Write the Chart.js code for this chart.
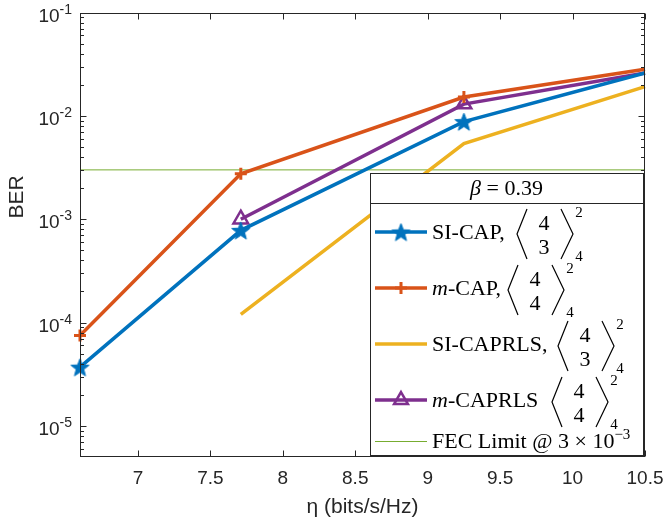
<!DOCTYPE html>
<html>
<head>
<meta charset="utf-8">
<script src="https://cdn.jsdelivr.net/npm/chart.js@4.4.1/dist/chart.umd.min.js"></script>
<style>
  html, body { margin: 0; padding: 0; background: #fff; }
  #wrap { position: relative; width: 665px; height: 520px; }
</style>
</head>
<body>
<div id="wrap"><canvas id="berChart" width="665" height="520"></canvas></div>
<script>
// ---------------- data ----------------
const etaValues = [6.6, 7.71, 9.25, 10.5];
const siCap = [3.7e-5, 7.8e-4, 8.8e-3, 0.026];
const mCap = [7.5e-5, 2.75e-3, 0.0152, 0.0283];
const siCapRls = [null, 1.2e-4, 5.4e-3, 0.0192];
const mCapRls = [null, 1.0e-3, 0.013, 0.026];
const fecLimit = 3e-3;
const xTicks = [7, 7.5, 8, 8.5, 9, 9.5, 10, 10.5];
const yDecades = [-5, -4, -3, -2, -1];
const xRange = [6.6, 10.5];
const yRange = [5e-6, 0.1];

const colors = { blue: '#0072BD', orange: '#D95319', yellow: '#EDB120', purple: '#7E2F8E', green: '#77AC30' };
const axisFont = '"Liberation Sans", Arial, sans-serif';
const serif = '"Liberation Serif", "Times New Roman", serif';
const legendSize = 22;

function toPoints(ys) {
  return etaValues.map((x, i) => ({ x: x, y: ys[i] })).filter(p => p.y !== null);
}

// markers sitting on the right axis edge are not drawn (clipped like the original)
function markerSize(r) {
  return c => (c.raw && c.raw.x >= xRange[1] ? 0 : r);
}

// filled pentagram marker
function makeStar(color, r) {
  const c = document.createElement('canvas');
  const s = Math.ceil(r * 2 + 4);
  c.width = s; c.height = s;
  const g = c.getContext('2d');
  g.fillStyle = color;
  g.strokeStyle = color;
  g.lineWidth = 1;
  g.beginPath();
  for (let i = 0; i < 10; i++) {
    const rad = i % 2 ? r * 0.42 : r;
    const a = -Math.PI / 2 + i * Math.PI / 5;
    g.lineTo(s / 2 + rad * Math.cos(a), s / 2 + 1 + rad * Math.sin(a));
  }
  g.closePath();
  g.fill();
  g.stroke();
  return c;
}
const starImg = makeStar(colors.blue, 9.5);

// ---------------- axes frame + ticks ----------------
const framePlugin = {
  id: 'frame',
  afterDatasetsDraw(chart) {
    const { ctx, chartArea: a, scales: { x, y } } = chart;
    ctx.save();
    ctx.strokeStyle = '#262626';
    ctx.lineWidth = 1;
    const L = Math.round(a.left) + 0.5, R = Math.round(a.right) - 0.5;
    const T = Math.round(a.top) + 0.5, B = Math.round(a.bottom) - 0.5;
    ctx.strokeRect(L, T, R - L, B - T);
    ctx.beginPath();
    xTicks.forEach(v => {
      const px = Math.round(x.getPixelForValue(v)) + 0.5;
      ctx.moveTo(px, B); ctx.lineTo(px, B - 6);
      ctx.moveTo(px, T); ctx.lineTo(px, T + 6);
    });
    for (let e = -6; e <= -1; e++) {
      for (let m = 1; m <= 9; m++) {
        const v = m * Math.pow(10, e);
        if (v < yRange[0] || v > yRange[1]) continue;
        const py = Math.round(y.getPixelForValue(v)) + 0.5;
        const len = m === 1 ? 6 : 3.5;
        ctx.moveTo(L, py); ctx.lineTo(L + len, py);
        ctx.moveTo(R, py); ctx.lineTo(R - len, py);
      }
    }
    ctx.stroke();

    // y tick labels 10^k
    ctx.fillStyle = '#262626';
    ctx.textBaseline = 'alphabetic';
    ctx.textAlign = 'left';
    yDecades.forEach(e => {
      const py = y.getPixelForValue(Math.pow(10, e));
      ctx.font = '19px ' + axisFont;
      const w1 = ctx.measureText('10').width;
      ctx.font = '14px ' + axisFont;
      const expText = '-' + Math.abs(e);
      const w2 = ctx.measureText(expText).width;
      const x0 = a.left - 8 - w1 - w2;
      ctx.font = '19px ' + axisFont;
      ctx.fillText('10', x0, py + 9);
      ctx.font = '14px ' + axisFont;
      ctx.fillText(expText, x0 + w1, py + 1);
    });

    // y axis title
    ctx.save();
    ctx.translate(17, 197);
    ctx.rotate(-Math.PI / 2);
    ctx.font = '21px ' + axisFont;
    ctx.textAlign = 'center';
    ctx.textBaseline = 'middle';
    ctx.fillText('BER', 0, 0);
    ctx.restore();
    ctx.restore();
  }
};

// ---------------- legend with matrices ----------------
function drawRuns(ctx, runs, x, baseline) {
  runs.forEach(r => {
    ctx.font = r.font;
    ctx.fillText(r.text, x, baseline + (r.dy || 0));
    x += ctx.measureText(r.text).width;
  });
  return x;
}

function drawMatrix(ctx, bx, yc, top, bottom, sup, sub) {
  ctx.beginPath();
  ctx.moveTo(bx + 10, yc - 25); ctx.lineTo(bx, yc); ctx.lineTo(bx + 10, yc + 25);
  ctx.moveTo(bx + 44, yc - 25); ctx.lineTo(bx + 56, yc); ctx.lineTo(bx + 44, yc + 25);
  ctx.stroke();
  ctx.textAlign = 'center';
  ctx.font = '22px ' + serif;
  ctx.fillText(top, bx + 27, yc - 12 + 7.5);
  ctx.fillText(bottom, bx + 27, yc + 12 + 7.5);
  ctx.font = '15px ' + serif;
  ctx.fillText(sup, bx + 62, yc - 22 + 5);
  ctx.fillText(sub, bx + 62, yc + 22 + 5);
  ctx.textAlign = 'left';
}

const legendRows = [
  { runs: [{ text: 'SI-CAP,' }], color: colors.blue, marker: 'star', bx: 147, mat: ['4', '3', '2', '4'] },
  { runs: [{ text: 'm', italic: true }, { text: '-CAP,' }], color: colors.orange, marker: 'cross', bx: 138, mat: ['4', '4', '2', '4'] },
  { runs: [{ text: 'SI-CAPRLS,' }], color: colors.yellow, marker: null, bx: 188, mat: ['4', '3', '2', '4'] },
  { runs: [{ text: 'm', italic: true }, { text: '-CAPRLS' }], color: colors.purple, marker: 'triangle', bx: 182, mat: ['4', '4', '2', '4'] }
];

const legendPlugin = {
  id: 'matLegend',
  afterDraw(chart) {
    const { ctx, chartArea: a } = chart;
    const W = 273, H = 282;
    const R = Math.round(a.right) - 2, B = Math.round(a.bottom) - 2;
    const L = R - W, T = B - H;
    ctx.save();
    ctx.fillStyle = '#fff';
    ctx.fillRect(L, T, W, H);
    ctx.strokeStyle = '#262626';
    ctx.lineWidth = 1;
    ctx.strokeRect(L + 0.5, T + 0.5, W, H);
    ctx.beginPath();
    ctx.moveTo(L, T + 30.5); ctx.lineTo(L + W, T + 30.5);
    ctx.stroke();

    ctx.fillStyle = '#000';
    ctx.textBaseline = 'alphabetic';
    // title
    const titleRuns = [
      { text: 'β', font: 'italic ' + legendSize + 'px ' + serif },
      { text: ' = 0.39', font: legendSize + 'px ' + serif }
    ];
    let tw = 0;
    titleRuns.forEach(r => { ctx.font = r.font; tw += ctx.measureText(r.text).width; });
    drawRuns(ctx, titleRuns, L + W / 2 - tw / 2, T + 22);

    legendRows.forEach((row, i) => {
      const ly = T + 59 + 56 * i;
      ctx.strokeStyle = row.color;
      ctx.fillStyle = row.color;
      ctx.lineWidth = 3.5;
      ctx.beginPath();
      ctx.moveTo(L + 5, ly); ctx.lineTo(L + 57, ly);
      ctx.stroke();
      const mx = L + 31;
      if (row.marker === 'star') {
        ctx.drawImage(starImg, mx - starImg.width / 2, ly - starImg.height / 2);
      } else if (row.marker === 'cross') {
        ctx.lineWidth = 3;
        Chart.helpers.drawPoint(ctx, { pointStyle: 'cross', radius: 6, borderWidth: 3, rotation: 0 }, mx, ly);
      } else if (row.marker === 'triangle') {
        ctx.lineWidth = 2.5;
        ctx.fillStyle = 'rgba(0,0,0,0)';
        Chart.helpers.drawPoint(ctx, { pointStyle: 'triangle', radius: 8, borderWidth: 2.5, rotation: 0 }, mx, ly);
      }
      ctx.fillStyle = '#000';
      ctx.strokeStyle = '#000';
      ctx.lineWidth = 1.2;
      drawRuns(ctx, row.runs.map(r => ({ text: r.text, font: (r.italic ? 'italic ' : '') + legendSize + 'px ' + serif })), L + 62, ly + 7);
      const m = row.mat;
      drawMatrix(ctx, L + row.bx, ly + 2, m[0], m[1], m[2], m[3]);
    });

    // FEC row
    const fy = T + 268;
    ctx.strokeStyle = colors.green;
    ctx.lineWidth = 1;
    ctx.beginPath();
    ctx.moveTo(L + 5, fy + 0.5); ctx.lineTo(L + 57, fy + 0.5);
    ctx.stroke();
    ctx.fillStyle = '#000';
    drawRuns(ctx, [
      { text: 'FEC Limit @ 3 × 10', font: legendSize + 'px ' + serif },
      { text: '−3', font: '15px ' + serif, dy: -9 }
    ], L + 62, fy + 7);
    ctx.restore();
  }
};

// ---------------- chart ----------------
const ctx = document.getElementById('berChart').getContext('2d');
new Chart(ctx, {
  type: 'line',
  data: {
    datasets: [
      {
        label: 'SI-CAP',
        data: toPoints(siCap),
        borderColor: colors.blue,
        backgroundColor: colors.blue,
        borderWidth: 3.5,
        pointStyle: starImg,
        pointRadius: markerSize(9),
        clip: false
      },
      {
        label: 'm-CAP',
        data: toPoints(mCap),
        borderColor: colors.orange,
        backgroundColor: colors.orange,
        borderWidth: 3.5,
        pointStyle: 'cross',
        pointRadius: markerSize(6),
        pointBorderWidth: 3,
        clip: false
      },
      {
        label: 'SI-CAPRLS',
        data: toPoints(siCapRls),
        borderColor: colors.yellow,
        backgroundColor: colors.yellow,
        borderWidth: 3.5,
        pointRadius: 0,
        clip: false
      },
      {
        label: 'm-CAPRLS',
        data: toPoints(mCapRls),
        borderColor: colors.purple,
        backgroundColor: 'rgba(0,0,0,0)',
        borderWidth: 3.5,
        pointStyle: 'triangle',
        pointRadius: markerSize(8.5),
        pointBorderWidth: 2.5,
        clip: false
      },
      {
        label: 'FEC Limit',
        data: [{ x: xRange[0], y: fecLimit }, { x: xRange[1], y: fecLimit }],
        borderColor: colors.green,
        borderWidth: 1,
        pointRadius: 0
      }
    ]
  },
  options: {
    responsive: false,
    animation: false,
    layout: { padding: { left: 80, right: 20, top: 11, bottom: 0 } },
    plugins: {
      legend: { display: false },
      tooltip: { enabled: false }
    },
    scales: {
      x: {
        type: 'linear',
        min: xRange[0],
        max: xRange[1],
        afterBuildTicks: s => { s.ticks = xTicks.map(v => ({ value: v })); },
        afterFit: s => {
          s.paddingLeft = 0;
          s.paddingRight = 0;
          s.height = 63;
        },
        grid: { display: false, drawTicks: false },
        border: { display: false },
        ticks: {
          color: '#262626',
          font: { family: axisFont, size: 19 },
          padding: 10,
          maxRotation: 0,
          autoSkip: false,
          callback: v => String(v)
        },
        title: {
          display: true,
          text: 'η (bits/s/Hz)',
          color: '#262626',
          font: { family: axisFont, size: 21 },
          padding: { top: 4, bottom: 0 }
        }
      },
      y: {
        type: 'logarithmic',
        min: yRange[0],
        max: yRange[1],
        display: false
      }
    }
  },
  plugins: [framePlugin, legendPlugin]
});
</script>
</body>
</html>
